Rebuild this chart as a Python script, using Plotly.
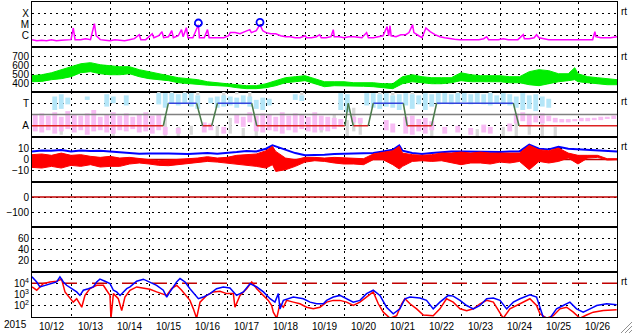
import pandas as pd
import plotly.graph_objects as go
from plotly.subplots import make_subplots

START = pd.Timestamp("2015-10-12 00:00")
END = pd.Timestamp("2015-10-27 00:00")

# ---------------- data (hours since 2015-10-12 00:00) ----------------
# Panel 1: X-ray flux (W/m2)
xr_h = [0,3,6,9,12,15,18,21,24,25.4, 26.5,30,33,36,37,38.4,39.5,42,45,48,
        51,54,57,60,63,66,67,70,72,74, 75,78,80,81,84,86,87,90,92,93,
        95,96,99,102.4,103,106,108,109,112,115, 118,121,122,125,128,131,134,135,138,140.3,
        141,142,144,147,150,153,156,159,162,165, 168,169,172,175,177,178,181,184,185.4,186,
        189,192,195,198,203,205.9,207,210,213,216, 218.5,219.5,220.3,221,224,227,230,232,234.2,235,
        238,240,242.4,245,248,251,254,257,260,263, 266,269,272,275,278,279.8,281,284,287,290,
        293,296,299,302.3,303,306,309,310.5,312,315, 318,321,324,327,330,333,336,339,342,345,
        346.4,347,350,353,356,360]
xr_f = [4.5e-7,3.6e-7,4.0e-7,3.6e-7,4.5e-7,3.6e-7,4.0e-7,4.5e-7,4.5e-7,4.9e-6,
        4.5e-7,4.5e-7,5.5e-7,4.5e-7,1.9e-6,1.18e-5,1.0e-6,4.5e-7,4.0e-7,3.6e-7,
        4.5e-7,4.0e-7,3.6e-7,4.5e-7,5.5e-7,1.24e-6,4.5e-7,4.5e-7,8.2e-7,1.5e-6,
        6.7e-7,1.0e-6,2.3e-6,6.7e-7,8.2e-7,2.8e-6,6.7e-7,1.0e-6,3.5e-6,8.2e-7,
        5.2e-6,6.7e-7,6.7e-7,9.6e-6,6.7e-7,6.7e-7,3.5e-6,6.7e-7,6.7e-7,6.7e-7,
        6.7e-7,1.0e-6,1.9e-6,1.9e-6,1.5e-6,2.3e-6,3.5e-6,1.9e-6,2.8e-6,9.6e-6,
        5.2e-6,2.8e-6,1.9e-6,1.5e-6,1.5e-6,1.0e-6,8.2e-7,8.2e-7,6.7e-7,6.7e-7,
        1.0e-6,6.7e-7,6.7e-7,8.2e-7,1.24e-6,6.7e-7,6.7e-7,8.2e-7,3.5e-6,8.2e-7,
        8.2e-7,6.7e-7,8.2e-7,8.2e-7,6.7e-7,1.9e-6,6.7e-7,6.7e-7,8.2e-7,1.0e-6,
        6.4e-6,1.0e-6,7.8e-6,1.0e-6,8.2e-7,1.24e-6,1.24e-6,1.9e-6,9.6e-6,1.9e-6,
        1.0e-6,6.7e-7,4.9e-6,2.3e-6,1.24e-6,8.2e-7,6.7e-7,5.5e-7,4.9e-7,4.5e-7,
        4.5e-7,4.5e-7,4.9e-7,4.5e-7,5.5e-7,8.2e-7,4.5e-7,4.5e-7,4.5e-7,5.5e-7,
        4.5e-7,4.5e-7,4.5e-7,1.24e-6,5.5e-7,5.5e-7,6.7e-7,1.24e-6,6.7e-7,5.5e-7,
        4.5e-7,4.5e-7,4.5e-7,4.5e-7,4.5e-7,4.5e-7,4.5e-7,4.5e-7,4.5e-7,4.5e-7,
        2.3e-6,8.2e-7,6.7e-7,6.7e-7,6.7e-7,8.2e-7]
flare_h = [102.4, 140.3]
flare_f = [1.36e-5, 1.55e-5]

# Panel 2: solar wind speed envelope (km/s)
sw_h = [0,6,12,18,24,30,36,42,48,54, 60,66,72,78,84,90,96,102,108,114,
        120,126,132,138,144,150,156,162,168,174, 180,186,192,198,204,210,216,222,228,234,
        240,246,252,258,264,270,276,282,288,294, 300,306,312,318,324,330,334,336,342,348,354,360]
sw_hi = [481,492,514,548,581,614,626,603,592,581, 581,548,526,503,481,459,448,437,414,403,
         398,381,370,370,392,426,459,470,481,448, 414,414,414,403,403,403,392,392,470,492,
         470,459,459,459,514,492,481,481,481,470, 470,526,548,537,503,503,570,503,470,459,448,437]
sw_lo = [414,418,437,448,470,514,526,503,492,492, 503,470,448,437,426,403,392,381,376,370,
         364,348,337,337,348,370,403,414,426,392, 359,370,370,370,364,359,348,337,392,414,
         403,392,392,403,426,414,414,414,414,403, 403,381,370,392,414,426,437,414,403,392,381,381]

# Panel 3: T / A state and scattered indices
kp_h = [0,80.8,83.9,101.3,105.0,110.6,114.1,135.2,138.3,192.6,194.6,
        197.7,206.9,210.0,228.5,230.9,245.9,249.0,296.2,299.7,360]
kp_lvl = [1,1,3,3,1,1,3,3,1,1,3,1,1,3,3,1,1,3,3,1,1]
bin_h = [2 + 4 * k for k in range(90)]
pink_lo = [0.5,0.4,0.6,0.3,0.5,0.7,0.4,0.6,0.2,0.5, 0.6,0.4,0.3,0.6,0.5,0.7,0.4,0.5,0.3,0.6,
           0.2,None,0.3,None,None,None,0.4,0.6,None,0.3, None,1.2,0.9,1.3,0.5,0.4,0.6,0.5,0.3,0.6,
           0.4,0.7,0.5,0.4,0.6,0.5,0.7,0.9,None,1.3, 1.2,None,None,None,0.6,0.4,None,0.3,0.2,0.5,
           0.3,0.6,None,0.3,None,0.4,None,0.2,None,0.4, 0.3,None,None,0.5,1.2,1.4,1.0,1.3,1.2,1.4,
           1.3,1.3,1.3,1.4,1.4,1.4,1.5,1.5,1.6,1.6]
pink_hi = [2.0,2.1,1.9,2.2,1.8,2.3,2.0,1.9,2.1,2.4, 1.8,2.0,2.2,1.9,2.1,1.8,2.0,2.2,1.9,2.0,
           0.9,None,0.8,None,None,None,1.3,1.2,None,0.9, None,2.0,1.8,2.2,1.9,2.1,2.0,1.8,2.2,1.9,
           2.1,2.0,1.8,2.2,1.9,1.8,1.7,1.6,None,1.8, 1.7,None,None,None,1.5,1.2,None,1.8,1.9,1.6,
           1.7,1.4,None,0.9,None,1.0,None,0.8,None,1.1, 0.9,None,None,1.2,2.1,2.2,2.0,1.9,2.1,1.9,
           1.7,1.6,1.6,1.6,1.7,1.7,1.7,1.8,1.8,1.9]
cyan_lo = [None,None,None,2.4,2.5,2.9,None,None,3.3,None, None,2.7,3.0,None,2.8,None,None,None,None,2.9,
           2.6,3.0,2.8,3.0,2.7,2.5,None,3.0,2.6,2.7, 2.8,2.6,2.9,2.7,2.5,2.4,2.8,None,None,None,
           3.3,3.2,None,None,None,None,None,2.4,2.2,None, None,2.8,2.6,2.5,2.7,2.6,2.4,2.8,2.5,2.9,
           2.4,2.7,2.9,3.0,2.9,3.0,3.1,2.9,3.0,2.9, 2.8,3.0,2.9,2.8,2.6,2.4,2.5,2.3,2.7,2.6,
           None,None,None,None,None,None,None,None,None,None]
cyan_hi = [None,None,None,3.6,3.8,3.5,None,None,3.6,None, None,3.8,3.6,None,3.7,None,None,None,None,3.9,
           3.9,3.9,3.8,3.9,3.9,3.7,None,3.5,3.6,3.7, 3.6,3.5,3.7,3.6,3.3,3.5,3.4,None,None,None,
           3.8,3.7,None,None,None,None,None,3.9,3.8,None, None,3.9,3.9,3.8,3.9,3.7,3.8,3.9,3.8,3.7,
           3.9,3.8,3.9,3.9,3.8,3.9,3.9,3.8,3.9,3.8, 3.9,3.7,3.9,3.8,3.6,3.9,3.7,3.8,3.6,3.4,
           None,None,None,None,None,None,None,None,None,None]
gray_h = [18,50,78,82,86,90,94,98,102,114, 118,122,126,130,134,138,166,178,186,194,
          198,202,214,222,234,246,262,274,282,290, 298,306,314,322]
gray_lo = [0.2,0.0,3.6,0.1,3.7,0.0,3.6,0.2,3.7,0.0, 3.6,0.3,3.8,0.0,3.5,0.1,3.7,0.4,1.2,0.0,
           0.5,0.2,3.8,3.7,3.8,0.0,3.8,0.0,3.8,0.1, 0.0,0.2,0.0,0.0]
gray_hi = [1.5,0.5,4.0,1.8,4.0,0.9,4.0,1.0,4.0,1.0, 4.0,1.7,4.0,0.8,4.0,1.2,4.0,1.0,2.0,1.5,
           2.6,1.3,4.0,4.0,4.0,0.8,4.0,0.7,4.0,0.9, 1.3,1.5,1.2,0.9]

# Panel 4: IMF Bt and Bz range (nT)
mag_h = [0,6,12,18,24,30,36,42,48,54, 60,66,72,78,84,90,96,102,108,114, 120,126,132,138,144,
         148,150, 156,162,168,174,180,186,192,198,204,210,216,222, 226,228,
         234,240,246,252,258,264,270,276,282,288,294,300,306,312,318,324,330,336,342,348,354,360]
bt = [7.2,8.1,7.8,8.4,7.2,8.1,7.5,7.8,7.2,6.6, 5.7,5.2,5.4,5.7,5.4,5.2,4.9,5.4,5.7,5.2,
      5.7,6.6,7.5,7.2,9.6, 12.6,11.7, 8.7,5.7,3.7,3.7,4.3,4.9,5.2,4.9,5.7,5.7,7.2,8.7, 12.6,7.8,
      5.7,4.9,5.7,6.6,7.2,7.2,6.9,7.2,6.9,6.6,7.2,7.2,13.2,9.6,9.0,11.4,9.6,9.0,8.4,7.8,7.2,7.2]
bz_hi = [4.3,4.9,3.7,5.7,3.7,4.3,2.8,1.9,2.8,1.3, 1.9,0.7,-0.2,-1.1,-0.5,-0.2,0.7,1.3,2.5,1.3,
         1.9,3.7,4.3,4.9,7.8, 11.7,7.2, 1.3,-0.2,1.9,1.9,1.3,1.9,1.3,0.7,0.7,4.9,6.6,7.8, 11.7,5.7,
         4.3,3.7,4.3,5.7,5.7,6.6,5.7,6.6,5.7,5.7,5.7,5.7,12.6,8.7,7.8,10.2,5.7,3.7,3.7,3.7,0.7,0.7]
bz_lo = [-7.0,-7.6,-6.1,-7.6,-5.2,-6.1,-4.6,-6.7,-6.1,-6.1, -4.0,-3.1,-4.0,-5.2,-5.5,-4.6,-3.1,-2.8,-1.7,-2.3,
         -3.1,-4.0,-5.2,-6.1,-7.6, -4.6,-10.6, -9.1,-6.1,-2.3,-1.1,-1.7,-3.1,-4.0,-4.0,-4.6,-0.2,-0.2,-4.6,
         -8.5,-6.1, -1.7,-1.1,-1.7,-1.1,-3.1,-4.6,-3.1,-3.1,-4.0,-2.3,-3.1,-1.7,-9.1,-1.7,-3.1,-1.7,
         1.3,-4.0,1.3,1.9,-0.5,-0.2]

# Panel 7: electron flux
eb_h = [0,2.9,4.9,8.0,11.1,15.2,17.2,19.3,21.3,24.4, 27.5,29.5,31.6,34.7,37.7,39.8,41.8,44.9,48.0,50.1,
        52.1,54.2,56.2,58.3,60.3,64.4,68.5,72.6,76.7,80.8, 82.9,84.9,89.0,91.1,94.2,97.2,100.3,102.4,105.4,109.5,
        113.6,117.7,121.8,125.9,130.1,134.2,138.3,142.4,146.5,149.5, 151.6,152.6,154.7,157.7,160.8,167.0,171.1,175.2,179.3,181.3,
        185.4,189.5,193.6,197.7,201.8,205.9,210.0,214.1,218.2,222.3, 226.4,229.5,232.6,238.7,242.8,246.9,251.0,256.2,259.2,263.4,
        267.5,271.6,275.7,279.8,283.9,288.0,292.1,296.2,300.3,306.4, 310.5,314.6,318.7,322.8,326.9,331.0,335.1,339.2,343.4,347.5,
        353.6,359.8]
eb = [3.7e4,1.3e4,4.7e3,6.6e3,9.3e3,1.3e4,3.7e4,1.3e4,6.6e3,3.3e3, 1.7e3,8.3e2,2.4e3,3.3e3,4.7e3,1.3e4,2.3e4,1.5e4,9.3e3,2.4e3,
      1.7e3,8.3e2,1.7e3,3.3e3,4.7e3,1.5e4,2.3e4,1.3e4,6.6e3,2.4e3, 5.9e2,1.7e3,1.3e4,2.6e4,1.3e4,3.3e3,8.3e2,4.2e2,5.9e2,1.2e3,
      3.3e3,4.7e3,3.8e3,8.3e2,1.7e3,9.3e3,4.7e3,1.7e3,4.2e2,2.1e2, 1.2e3,53,3.0e2,4.2e2,5.9e2,4.2e2,2.1e2,1.5e2,1.5e2,3.0e2,
      5.9e2,8.3e2,4.2e2,2.1e2,3.0e2,1.2e3,2.4e3,8.3e2,74,19, 53,4.2e2,5.9e2,4.8e2,3.0e2,53,2.1e2,8.3e2,7.2e2,3.0e2,
      1.05e2,53,1.05e2,4.2e2,4.8e2,3.0e2,53,2.1e2,4.2e2,9.5e2, 5.9e2,9.5,7.8,53,1.05e2,2.1e2,53,27,53,1.05e2,
      1.5e2,1.2e2]
er_h = [0,2.9,6.9,11.1,15.2,18.2,20.3,23.4,25.4,27.5, 30.6,32.6,35.7,39.8,43.9,45.9,48.0,48.6,50.1,53.1,
        55.2,57.2,60.3,64.4,68.5,72.6,76.7,79.8,82.9,85.9, 89.0,92.1,95.2,97.2,99.3,101.3,103.4,107.5,111.6,115.7,
        119.8,123.9,124.9,128.0,132.1,135.2,138.3,142.4,145.4,147.5, 148.5,150.6,152.6,154.7,156.7,160.8,164.9,169.0,173.1,177.2,
        181.3,185.4,189.5,193.6,197.7,201.8,205.9,210.0,213.1,216.2, 220.3,224.4,227.5,229.5,232.6,236.7,240.8,246.9,251.0,255.1,
        259.2,263.4,267.5,271.6,275.7,279.8,283.9,288.0,290.0,294.1, 300.3,306.4,310.5,312.6,316.7,320.8,324.9,329.0,333.1,337.2,
        341.3,345.4,351.6,359.8]
er = [4.7e3,2.4e3,9.3e3,1.3e4,1.5e4,2.3e4,1.7e3,4.2e2,2.1e2,4.2e2, 74,8.3e2,3.3e3,6.6e3,6.6e3,2.4e3,8.3e2,7.8,1.2e3,4.2e2,
      37,5.9e2,2.4e3,4.7e3,3.8e3,2.9e3,1.7e3,1.2e3,8.3e2,3.3e3, 6.6e3,2.4e3,5.9e2,3.0e2,53,7.8,2.1e2,8.3e2,1.7e3,1.9e3,
      1.2e3,1.2e3,74,8.3e2,3.3e3,1.3e4,3.3e3,8.3e2,3.0e2,1.05e2, 27,7.8,1.5e2,74,3.0e2,2.1e2,1.5e2,74,53,74,
      2.1e2,3.0e2,3.0e2,2.1e2,1.05e2,2.1e2,5.9e2,1.7e3,1.5e2,27, 7.8,13,1.5e2,4.2e2,1.5e2,53,15,13,53,4.2e2,
      2.1e2,53,37,53,1.5e2,3.0e2,2.1e2,27,7.8,53, 1.5e2,4.2e2,1.05e2,19,7.8,13,53,74,27,7.8,
      15,27,37,45]

FONT = dict(family="Liberation Sans, Arial, sans-serif", size=10, color="black")

# ---------------- figure ----------------
def at(hours):
    return [None if h is None else START + pd.Timedelta(hours=h) for h in hours]

def height(lo, hi):
    return [None if a is None else round(b - a, 3) for a, b in zip(lo, hi)]

fig = make_subplots(rows=7, cols=1, shared_xaxes=True, vertical_spacing=0)
span = [START, END]

# Panel 1
fig.add_trace(go.Scatter(x=at(xr_h), y=xr_f, mode="lines", line=dict(color="#ff00ff", width=1.5)), row=1, col=1)
fig.add_trace(go.Scatter(x=at(flare_h), y=flare_f, mode="markers",
                         marker=dict(symbol="circle-open", size=7, color="#0000ff", line=dict(width=1.8))), row=1, col=1)

# Panel 2
fig.add_trace(go.Scatter(x=at(sw_h), y=sw_lo, mode="lines", line=dict(color="#00ee00", width=1)), row=2, col=1)
fig.add_trace(go.Scatter(x=at(sw_h), y=sw_hi, mode="lines", fill="tonexty", fillcolor="#00ee00",
                         line=dict(color="#00ee00", width=1)), row=2, col=1)

# Panel 3
W3 = 3 * 3600 * 1000
fig.add_trace(go.Bar(x=at(gray_h), y=height(gray_lo, gray_hi), base=gray_lo, width=2 * 3600 * 1000,
                     marker=dict(color="#d8d8d8", line=dict(width=0))), row=3, col=1)
fig.add_trace(go.Bar(x=at(bin_h), y=height(pink_lo, pink_hi), base=pink_lo, width=W3,
                     marker=dict(color="#f8bcf4", line=dict(width=0))), row=3, col=1)
fig.add_trace(go.Bar(x=at(bin_h), y=height(cyan_lo, cyan_hi), base=cyan_lo, width=W3,
                     marker=dict(color="#b4e6f8", line=dict(width=0))), row=3, col=1)
fig.add_trace(go.Scatter(x=span, y=[2, 2], mode="lines", line=dict(color="#808080", width=1.5)), row=3, col=1)
segs = {"#dd2222": ([], []), "#3344dd": ([], []), "#4a7a4a": ([], [])}
for i in range(len(kp_h) - 1):
    a, b = kp_lvl[i], kp_lvl[i + 1]
    c = "#dd2222" if a == b == 1 else ("#3344dd" if a == b == 3 else "#4a7a4a")
    segs[c][0].extend([kp_h[i], kp_h[i + 1], None])
    segs[c][1].extend([a, b, None])
for c, (xs, ys) in segs.items():
    fig.add_trace(go.Scatter(x=at(xs), y=ys, mode="lines", line=dict(color=c, width=1.5)), row=3, col=1)

# Panel 4
fig.add_trace(go.Scatter(x=span, y=[0, 0], mode="lines", line=dict(color="#c00000", width=1.5)), row=4, col=1)
fig.add_trace(go.Scatter(x=at(mag_h), y=bt, mode="lines", line=dict(color="#0000ff", width=2)), row=4, col=1)
fig.add_trace(go.Scatter(x=at(mag_h), y=bz_lo, mode="lines", line=dict(color="#ff0000", width=1)), row=4, col=1)
fig.add_trace(go.Scatter(x=at(mag_h), y=bz_hi, mode="lines", fill="tonexty", fillcolor="#ff0000",
                         line=dict(color="#ff0000", width=1)), row=4, col=1)

# Panel 5
fig.add_trace(go.Scatter(x=span, y=[0, 0], mode="lines", line=dict(color="#c00000", width=1.5)), row=5, col=1)

# Panel 6 (empty panel, keep its axes drawn)
fig.add_trace(go.Scatter(x=span, y=[-50, -50], mode="lines", line=dict(color="rgba(0,0,0,0)", width=0)), row=6, col=1)

# Panel 7
fig.add_trace(go.Scatter(x=span, y=[1e4, 1e4], mode="lines", line=dict(color="#c00000", width=1.5, dash="longdash")), row=7, col=1)
fig.add_trace(go.Scatter(x=at(er_h), y=er, mode="lines", line=dict(color="#ff0000", width=1.5)), row=7, col=1)
fig.add_trace(go.Scatter(x=at(eb_h), y=eb, mode="lines", line=dict(color="#0000ff", width=1.5)), row=7, col=1)

DOT = "2px,4px"
fig.update_xaxes(range=span, tick0=START, dtick=86400000, showgrid=True, gridcolor="black",
                 griddash=DOT, gridwidth=1, showline=True, mirror=True, linecolor="black",
                 linewidth=1, ticks="", showticklabels=False, zeroline=False, fixedrange=True)
fig.update_xaxes(showticklabels=True, tickformat="%m/%d", ticklabelmode="period",
                 tickfont=FONT, row=7, col=1)
fig.update_yaxes(showgrid=True, gridcolor="black", griddash=DOT, gridwidth=1, showline=True,
                 mirror=True, linecolor="black", linewidth=1, ticks="", zeroline=False,
                 tickfont=FONT, fixedrange=True)

fig.update_yaxes(type="log", range=[-7, -3], tickvals=[1e-4, 1e-5, 1e-6], ticktext=["X", "M", "C"], row=1, col=1)
fig.update_yaxes(range=[300, 800], tickvals=[700, 600, 500, 400], row=2, col=1)
fig.update_yaxes(range=[0, 4], tickvals=[3, 1], ticktext=["T", "A"], row=3, col=1)
fig.update_yaxes(range=[-20, 20], tickvals=[10, 0, -10], row=4, col=1)
fig.update_yaxes(range=[-200, 100], tickvals=[0, -100], row=5, col=1)
fig.update_yaxes(range=[0, 80], tickvals=[60, 40, 20], row=6, col=1)
fig.update_yaxes(type="log", range=[1, 5], tickvals=[1e4, 1e3, 1e2],
                 ticktext=["10<sup>4</sup>", "10<sup>3</sup>", "10<sup>2</sup>"], row=7, col=1)

ann = [dict(text="2015", xref="paper", yref="paper", x=-0.028, y=-0.024, xanchor="center",
            yanchor="middle", showarrow=False, font=FONT)]
for ref in ["y domain", "y2 domain", "y3 domain", "y4 domain", "y7 domain"]:
    ann.append(dict(text="rt", xref="paper", yref=ref, x=1, y=0.8, xanchor="left", yanchor="middle",
                    xshift=2, showarrow=False, font=FONT))

grip = []
for (x0, y0, x1, y1) in [(621, 333, 632, 322), (625, 333, 632, 326), (629, 333, 632, 330)]:
    grip.append(dict(type="line", xref="paper", yref="paper",
                     x0=(x0 - 32) / 585, y0=(317 - y0) / 315, x1=(x1 - 32) / 585, y1=(317 - y1) / 315,
                     line=dict(color="#909090", width=1)))

fig.update_layout(width=633, height=334, margin=dict(l=32, r=16, t=2, b=17),
                  paper_bgcolor="white", plot_bgcolor="white", showlegend=False,
                  barmode="overlay", hovermode=False, annotations=ann, shapes=grip,
                  font=FONT)

fig.write_html("out.html")
